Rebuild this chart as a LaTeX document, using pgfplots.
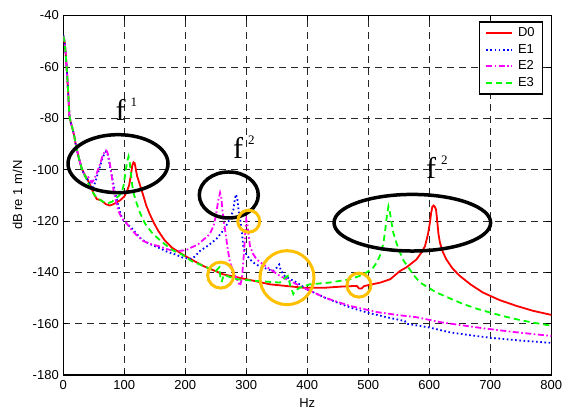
\documentclass[border=0pt]{standalone}
\usepackage{fontspec}
\setmainfont{Liberation Sans}
\newfontfamily\timesfont{Liberation Serif}
\usepackage{pgfplots}
\pgfplotsset{compat=1.18}
\definecolor{gold}{RGB}{255,192,0}
\definecolor{dred}{RGB}{255,0,0}
\definecolor{dblue}{RGB}{0,0,255}
\definecolor{dmag}{RGB}{255,0,255}
\definecolor{dgreen}{RGB}{0,255,0}
\newcommand\flab[1]{{\timesfont\fontsize{30}{30}\selectfont f\hspace{5pt}\raisebox{14pt}{\fontsize{13}{13}\selectfont #1}}}

\begin{document}
\begin{tikzpicture}[font=\fontsize{13}{15}\selectfont]
\path[use as bounding box] (-63.3pt,-36pt) rectangle (507.7pt,375pt);
\begin{axis}[
  at={(0pt,0pt)}, anchor=south west,
  width=488pt, height=359.5pt, scale only axis,
  xmin=0, xmax=800, ymin=-180, ymax=-40,
  xtick={0,100,...,800}, ytick={-180,-160,...,-40},
  /pgf/number format/assume math mode=true,
  grid=major,
  major grid style={black!85, line width=0.6pt, dash pattern=on 7pt off 5pt},
  axis line style={black, line width=1.2pt},
  tick align=inside, major tick length=5pt,
  tick style={black, line width=0.6pt},
  yticklabel style={xshift=-1pt},
  xticklabel style={yshift=-2pt},
  xlabel={Hz}, ylabel={dB re 1 m/N},
  xlabel style={at={(axis description cs:0.5,-0.078)}, anchor=center},
  ylabel style={at={(axis description cs:-0.0938,0.5)}, anchor=center},
  legend image code/.code={\draw[#1] (0pt,0pt) -- (26pt,0pt);},
  legend cell align=left,
  legend style={at={(1,1)}, anchor=north east, xshift=-8pt, yshift=-6pt,
    draw=black, line width=1.2pt, fill=white, inner xsep=6pt, inner ysep=3pt,
    row sep=0pt, column sep=3pt,
    nodes={inner sep=2pt, text height=9.5pt, text depth=3pt}},
]
% D0
\addplot[draw=dred, line width=1.8pt, solid] coordinates {
(0,-48) (2,-50) (4,-55) (6,-62) (8,-70) (10,-79) (12,-81.5) (15,-84) (18,-87) (21,-91) (25,-95) (30,-99.5) (35,-102) (40,-104)
(44,-106) (50,-109.5) (55,-111.5) (62,-112) (70,-113.5) (76,-114) (82,-113.5) (88,-112.7) (93,-112) (100,-110.5) (104,-108.8)
(108,-106) (111,-102) (113,-98.5) (115,-97.2) (117,-97.5) (119,-100) (121,-102.5) (123,-104) (127,-107) (131,-110) (136,-114)
(142,-117.5) (149,-121) (156,-124) (166,-127.5) (178,-130.4) (200,-133.7) (230,-137.6) (262,-140.8) (300,-142.7) (339,-144.7)
(393,-146) (430,-146) (454,-145.6) (481,-145.3) (485,-146.3) (489,-146.3) (493,-145.4) (500,-145) (520,-144) (536,-142.7)
(552,-139.5) (563,-138) (579,-135) (588,-132) (593,-129.8) (598,-125) (601,-120.7) (603,-117) (605,-114.5) (607,-114)
(609,-114.5) (611,-115.5) (613,-120) (615,-125) (617.5,-128.5) (622,-132) (628,-135) (638,-138.5) (650,-141.4) (668,-144.8)
(688,-147.9) (715,-150.8) (743,-153.1) (770,-155) (800,-156.6)
};
\addlegendentry{D0}
% E1
\addplot[draw=dblue, line width=1.8pt, dash pattern=on 1.6pt off 2.6pt] coordinates {
(0,-47.5) (2,-50) (4,-55) (6,-62) (8,-70) (10,-79) (12,-81.5) (15,-84) (18,-87) (21,-91) (25,-95) (30,-99.5)
(35,-102.5) (40,-104) (44,-105.5) (47,-107.5) (50,-106.5) (53,-104.5) (56,-102) (60,-99) (63.5,-96.1) (67,-94) (70,-93)
(72,-93.2) (74,-95.5) (77,-99.5) (80,-103) (83,-106.5) (86,-110) (90,-114) (94,-117.5) (98,-119.5) (104,-121) (112,-122.8)
(120,-125) (128.5,-127.2) (140,-128.8) (156,-130.4) (170,-132) (183,-133) (196,-134.3) (208,-134.8) (215,-134) (224,-131.7)
(238,-129.5) (251,-127) (262,-123.8) (270,-120.7) (276,-117.5) (279,-115.5) (281,-112) (283,-109.7) (285,-111) (287,-115)
(290,-119.4) (293,-125) (295,-129.8) (300,-133) (306,-135) (316,-137) (328,-138.2) (344,-139.5) (350,-138.2) (354,-137)
(357,-139.5) (363,-141.4) (372,-142.7) (383,-144) (399,-146.6) (430,-150) (470,-153.7) (500,-155.8) (530,-157.5) (560,-159)
(562,-160) (575,-160.5) (600,-161.5) (634,-163.4) (670,-164.6) (700,-165.5) (750,-166.6) (800,-167.5)
};
\addlegendentry{E1}
% E2
\addplot[draw=dmag, line width=1.8pt, dash pattern=on 6pt off 2.5pt on 1.6pt off 2.5pt] coordinates {
(0,-48) (2,-50) (4,-55) (6,-62) (8,-70) (10,-79) (12,-81.5) (15,-84) (18,-87) (21,-91) (25,-95) (30,-99.5)
(35,-102) (38,-103.5) (41,-103) (44,-104) (47,-105) (50,-104) (55,-101.3) (60,-98) (64,-95) (68,-93) (70,-92.5) (72,-93)
(75,-96) (78,-100) (82,-107.5) (86,-112) (90,-116) (96,-119) (104,-121) (112,-123.5) (120,-125.5) (131,-127.8) (143,-129)
(156,-129.8) (170,-131) (183,-131.7) (200,-131.5) (221,-129.1) (240,-125.2) (247,-121.5) (251,-116.8) (254,-112) (257,-109)
(259,-111) (261,-116) (263,-120) (265,-123) (269,-130) (273,-136) (280,-140.5) (286,-143.5) (290,-145.3) (293,-142)
(296,-133) (299,-122) (300,-119.4) (302,-121.5) (304,-126) (306,-129.8) (311,-132.8) (317,-135) (328,-137) (339,-138.8)
(355,-141.4) (377,-144) (399,-146.6) (430,-150) (470,-153.1) (514,-155.5) (550,-156.7) (579,-157.5) (620,-159.5)
(688,-161.8) (740,-163.3) (800,-164.8)
};
\addlegendentry{E2}
% E3
\addplot[draw=dgreen, line width=1.8pt, dash pattern=on 6pt off 4pt] coordinates {
(0,-48) (2,-50) (4,-55) (6,-62) (8,-70) (10,-79) (12,-81.5) (15,-84) (18,-87) (21,-91) (25,-95) (30,-99.5) (35,-102) (40,-105)
(44,-107) (50,-109.5) (55,-111) (65,-112.5) (74,-113) (80,-112.5) (85,-111.5) (92,-110) (96,-108.8) (99,-106) (102,-101)
(104.5,-97) (107,-94.9) (109,-97.5) (111,-102) (113,-106) (115,-109) (120,-113) (126,-117) (134,-121) (145,-124.5) (156,-127)
(167,-129.2) (180,-131.5) (194,-133) (210,-135.6) (230,-137.6) (250,-139.5) (254,-138.5) (256,-138) (258,-143.5) (260,-143.5)
(263,-141) (284,-142.7) (317,-143.4) (355,-144) (362,-142.5) (368,-141.4) (372,-145) (377,-148.5) (381,-147) (388,-146)
(404,-144.7) (437,-144) (470,-142.7) (485,-141.5) (497,-140.1) (507,-138.5) (514,-136.2) (520,-133) (525,-128.5) (528,-123)
(531,-117) (533,-114.3) (535,-116) (538,-120.5) (541,-124.6) (546,-128.5) (552,-132.3) (558,-135.5) (566,-138.2) (575,-141.3)
(585,-144) (600,-146.2) (612,-147.9) (635,-150.3) (656,-152.4) (678,-154.2) (700,-155.7) (720,-157) (743,-158.3) (770,-159.6)
(800,-160.8)
};
\addlegendentry{E3}
% annotations
\draw[black, line width=3.5pt] (axis cs:89.7,-97.7) ellipse [x radius=50pt, y radius=29pt];
\draw[black, line width=3.5pt] (axis cs:271.3,-109.9) ellipse [x radius=29.5pt, y radius=23pt];
\draw[black, line width=3.5pt] (axis cs:572.2,-120.7) ellipse [x radius=78.3pt, y radius=28.3pt];
\draw[gold, line width=3pt] (axis cs:258,-141.1) circle [radius=13pt];
\draw[gold, line width=3pt] (axis cs:304,-120.1) circle [radius=11pt];
\draw[gold, line width=3pt] (axis cs:366.7,-142.1) circle [radius=27pt];
\draw[gold, line width=3pt] (axis cs:484.7,-145) circle [radius=12pt];
\node[anchor=base west, inner sep=0pt] at (axis cs:85.6,-81.0) {\flab{1}};
\node[anchor=base west, inner sep=0pt] at (axis cs:278.2,-95.5) {\flab{2}};
\node[anchor=base west, inner sep=0pt] at (axis cs:594.6,-103.3) {\flab{2}};
\end{axis}
\end{tikzpicture}
\end{document}
